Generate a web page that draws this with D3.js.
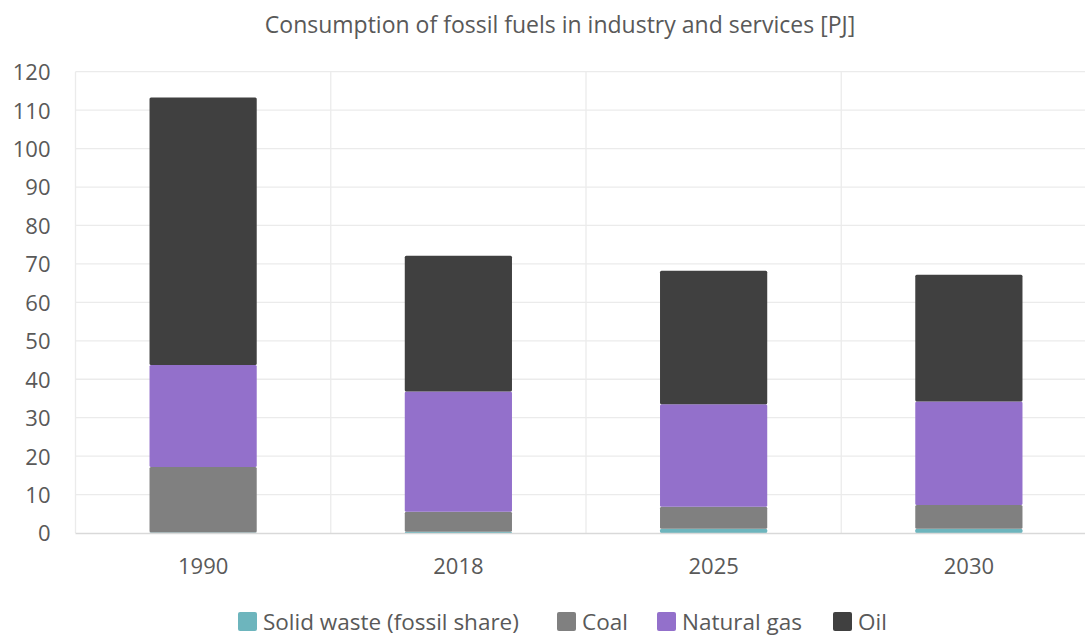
<!DOCTYPE html>
<html>
<head>
<meta charset="utf-8">
<script src="https://cdn.jsdelivr.net/npm/d3@7"></script>
<style>
  html, body { margin: 0; padding: 0; background: #fff; }
  svg { display: block; font-family: "Open Sans", Lato, sans-serif; }
</style>
</head>
<body>
<svg id="chart" width="1085" height="637"></svg>
<script>
// Fossil fuel consumption in industry and services, PJ
const years = ["1990", "2018", "2025", "2030"];
const solidWaste = [0.1, 0.3, 1.1, 1.1];
const coal = [17.1, 5.2, 5.7, 6.2];
const naturalGas = [26.5, 31.3, 26.7, 26.9];
const oil = [69.6, 35.3, 34.7, 33.0];
const yTicks = [0, 10, 20, 30, 40, 50, 60, 70, 80, 90, 100, 110, 120];
const seriesNames = ["Solid waste (fossil share)", "Coal", "Natural gas", "Oil"];
const seriesColors = ["#6db5bd", "#808080", "#9370cb", "#404040"];

const seriesValues = [solidWaste, coal, naturalGas, oil];
const rows = years.map((yr, i) => {
  const r = { year: yr };
  seriesNames.forEach((s, k) => r[s] = seriesValues[k][i]);
  return r;
});
const stacked = d3.stack().keys(seriesNames)(rows);

const svg = d3.select("#chart");
const plotLeft = 75.5, plotRight = 1096.5, plotTop = 71.7, plotBottom = 533;
const textColor = "#595959";
const fontFamily = "'Open Sans', Lato, sans-serif";

const x = d3.scaleBand().domain(years).range([plotLeft, plotRight]).padding(0);
const y = d3.scaleLinear().domain([0, 120]).range([plotBottom, plotTop]);
const barW = x.bandwidth() * 0.42;

// Horizontal gridlines
svg.append("g").selectAll("line").data(yTicks.filter(t => t > 0)).join("line")
  .attr("x1", plotLeft).attr("x2", plotRight)
  .attr("y1", d => y(d)).attr("y2", d => y(d))
  .attr("stroke", "#ebebeb").attr("stroke-width", 1.3);

// Vertical gridlines at category boundaries
svg.append("g").selectAll("line").data(years).join("line")
  .attr("x1", d => x(d)).attr("x2", d => x(d))
  .attr("y1", plotTop).attr("y2", plotBottom)
  .attr("stroke", "#ebebeb").attr("stroke-width", 1.3);

// Stacked bars
svg.append("g").selectAll("g").data(stacked).join("g")
  .attr("fill", (d, i) => seriesColors[i])
  .selectAll("rect").data(d => d).join("rect")
  .attr("x", d => x(d.data.year) + (x.bandwidth() - barW) / 2)
  .attr("width", barW)
  .attr("y", d => y(d[1]))
  .attr("height", d => Math.max(0, y(d[0]) - y(d[1])))
  .attr("rx", 1.5);

// Baseline
svg.append("line")
  .attr("x1", plotLeft).attr("x2", plotRight)
  .attr("y1", plotBottom + 0.5).attr("y2", plotBottom + 0.5)
  .attr("stroke", "#d9d9d9").attr("stroke-width", 1.3);

// Y axis labels
const yAxis = d3.axisLeft(y).tickValues(yTicks).tickSize(0).tickPadding(0);
const yg = svg.append("g").attr("transform", `translate(${plotLeft - 25},0)`).call(yAxis);
yg.select(".domain").remove();
yg.selectAll("text").attr("fill", textColor).style("font-size", "22px")
  .style("font-family", fontFamily).attr("dy", "0.36em");

// X axis labels
const xAxis = d3.axisBottom(x).tickSize(0).tickPadding(0);
const xg = svg.append("g").attr("transform", `translate(0,${plotBottom + 25})`).call(xAxis);
xg.select(".domain").remove();
xg.selectAll("text").attr("fill", textColor).style("font-size", "22px")
  .style("font-family", fontFamily);

// Title
svg.append("text")
  .attr("x", 560).attr("y", 33)
  .attr("text-anchor", "middle")
  .attr("fill", textColor).style("font-size", "23px")
  .text("Consumption of fossil fuels in industry and services [PJ]");

// Legend
const legendX = [238, 557, 657, 833];
const lg = svg.append("g").selectAll("g").data(seriesNames).join("g")
  .attr("transform", (d, i) => `translate(${legendX[i]},${612})`);
lg.append("rect").attr("width", 19).attr("height", 19).attr("rx", 2)
  .attr("fill", (d, i) => seriesColors[i]);
lg.append("text").attr("x", 25).attr("y", 18)
  .attr("fill", textColor).style("font-size", "22.5px").text(d => d);
</script>
</body>
</html>
